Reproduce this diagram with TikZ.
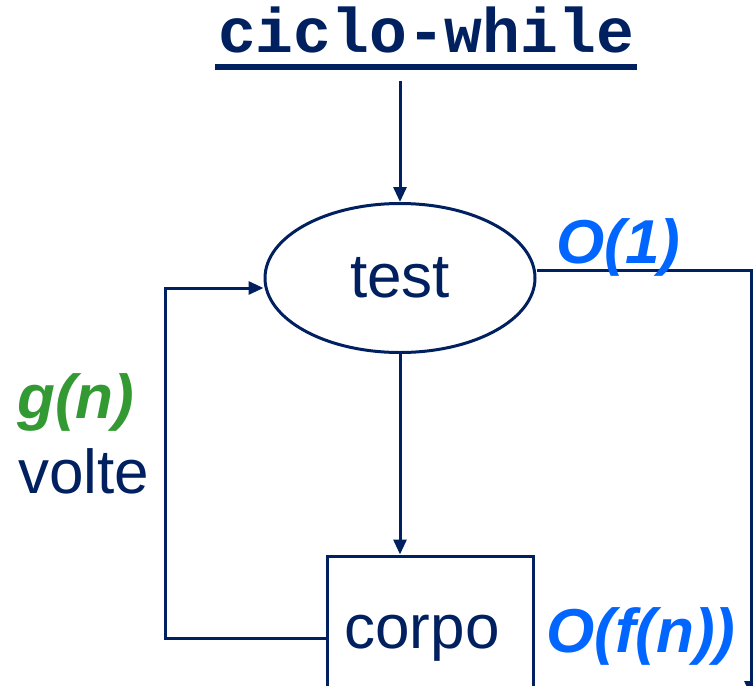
\documentclass[tikz,border=0pt]{standalone}
\usepackage{fontspec}
\setmainfont{Liberation Sans}
\newfontfamily\codefont{Liberation Mono}
\usetikzlibrary{shapes, arrows.meta, calc, positioning}
\definecolor{slidenavy}{rgb}{0, 0.125, 0.376}
\definecolor{slideblue}{rgb}{0, 0.4, 1.0}
\definecolor{slidegreen}{rgb}{0.2, 0.6, 0.2}
\tikzset{
    flow/.style={draw=slidenavy, line width=3pt, -{Triangle[length=15pt, width=13pt]}},
    cost/.style={anchor=base west, inner sep=0pt, text=slideblue, font=\fontsize{62}{70}\selectfont\bfseries\itshape}
}

\begin{document}
\begin{tikzpicture}[x=1pt, y=-1pt, every node/.style={font=\fontsize{62}{70}\selectfont, text=slidenavy}]
        \useasboundingbox (0,0) rectangle (753,686);

        \node[anchor=base, inner sep=0pt, font=\fontsize{63}{70}\selectfont\codefont\bfseries] (title) at (426,52) {ciclo-while};
        \draw[slidenavy, line width=6pt] ([xshift=-3pt, yshift=-15pt]title.base west) -- ([xshift=3pt, yshift=-15pt]title.base east);

        \node[draw=slidenavy, line width=3pt, ellipse, minimum width=270pt, minimum height=149pt, inner sep=0pt] (test) at (400,278) {test};
        \node[draw=slidenavy, line width=3pt, rectangle, minimum width=206pt, minimum height=164pt, inner sep=0pt] (corpo) at (430,638) {\hspace*{-16pt}corpo};

        \coordinate (back) at (165,288);
        \coordinate (exit) at (751,270);
        \coordinate (done) at (751,696);

        \draw[flow] ([yshift=-28pt]title.south -| test.north) -- (test.north);
        \draw[flow] (test.south) -- (test.south |- corpo.north);
        \draw[flow] (corpo.west) -| (back) -- (back -| test.west);
        \draw[flow] (exit -| test.east) -- (exit) -- (done);

        \node[cost] (testcost) at (556,263) {O(1)};
        \node[cost] (corpocost) at (546,652) {O(f(n))};
        \node[cost, text=slidegreen] (times) at (17,418) {g(n)};
        \node[anchor=base west, inner sep=0pt] (volte) at (18,493) {volte};
    \end{tikzpicture}
\end{document}
